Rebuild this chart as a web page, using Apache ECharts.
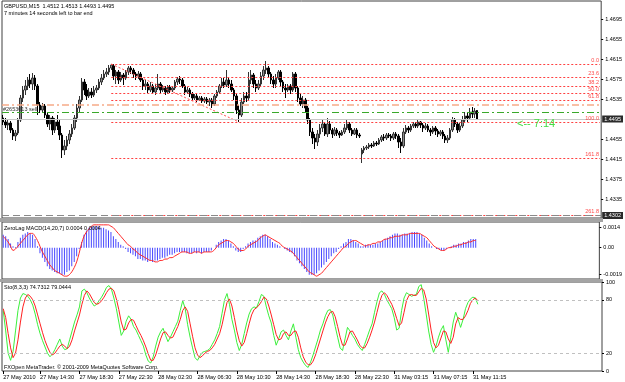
<!DOCTYPE html>
<html>
<head>
<meta charset="utf-8">
<script src="https://cdn.jsdelivr.net/npm/echarts@6/dist/echarts.min.js"></script>
<style>
  html, body { margin: 0; padding: 0; background: #fff; }
  #main { width: 625px; height: 382px; }
</style>
</head>
<body>
<div id="main"></div>
<script>
// time axis: 244 slots of 15 min, labels every 16 bars
const slotCount = 244;
const tickBars = [0, 15, 31, 47, 63, 79, 95, 111, 127, 143, 159, 175, 191];
const tickLabels = ['27 May 2010', '27 May 14:30', '27 May 18:30', '27 May 22:30', '28 May 02:30', '28 May 06:30',
  '28 May 10:30', '28 May 14:30', '28 May 18:30', '28 May 22:30', '31 May 03:15', '31 May 07:15', '31 May 11:15'];

// [open, close, low, high]
const candles = [
  [1.4497,1.4489,1.4483,1.4503],[1.4489,1.4483,1.4477,1.4497],[1.4483,1.4487,1.4473,1.4495],[1.4487,1.4473,1.4467,1.4491],
  [1.4473,1.4461,1.4453,1.4477],[1.4461,1.4467,1.4451,1.4473],[1.4467,1.4493,1.4463,1.4497],[1.4493,1.4537,1.4489,1.4543],
  [1.4537,1.4553,1.4529,1.4561],[1.4553,1.4561,1.4543,1.4573],[1.4561,1.4573,1.4553,1.4579],[1.4573,1.4565,1.4557,1.4585],
  [1.4565,1.4577,1.4553,1.4587],[1.4577,1.4561,1.4553,1.4583],[1.4561,1.4523,1.4503,1.4565],[1.4523,1.4513,1.4507,1.4529],
  [1.4513,1.4521,1.4507,1.4527],[1.4521,1.4503,1.4497,1.4525],[1.4503,1.4485,1.4479,1.4509],[1.4485,1.4497,1.4473,1.4503],
  [1.4497,1.4473,1.4463,1.4501],[1.4473,1.4489,1.4467,1.4497],[1.4489,1.4481,1.4473,1.4503],[1.4481,1.4463,1.4453,1.4493],
  [1.4463,1.4433,1.4417,1.4467],[1.4433,1.4441,1.4423,1.4453],[1.4441,1.4453,1.4433,1.4461],[1.4453,1.4465,1.4445,1.4473],
  [1.4465,1.4477,1.4459,1.4485],[1.4477,1.4497,1.4473,1.4503],[1.4497,1.4517,1.4489,1.4525],[1.4517,1.4533,1.4509,1.4541],
  [1.4533,1.4569,1.4529,1.4577],[1.4569,1.4553,1.4543,1.4575],[1.4553,1.4541,1.4533,1.4565],[1.4541,1.4549,1.4537,1.4557],
  [1.4549,1.4543,1.4537,1.4557],[1.4543,1.4553,1.4539,1.4561],[1.4553,1.4557,1.4547,1.4563],[1.4557,1.4569,1.4553,1.4575],
  [1.4569,1.4577,1.4563,1.4585],[1.4577,1.4585,1.4573,1.4593],[1.4585,1.4589,1.4579,1.4597],[1.4589,1.4597,1.4583,1.4603],
  [1.4597,1.4603,1.4593,1.4605],[1.4601,1.4581,1.4573,1.4605],[1.4581,1.4589,1.4565,1.4593],[1.4589,1.4573,1.4565,1.4593],
  [1.4573,1.4583,1.4569,1.4589],[1.4583,1.4577,1.4563,1.4587],[1.4577,1.4589,1.4573,1.4593],[1.4589,1.4597,1.4583,1.4601],
  [1.4597,1.4593,1.4585,1.4601],[1.4593,1.4585,1.4577,1.4597],[1.4585,1.4581,1.4573,1.4589],[1.4581,1.4585,1.4575,1.4591],
  [1.4585,1.4573,1.4569,1.4589],[1.4573,1.4561,1.4553,1.4577],[1.4561,1.4565,1.4553,1.4573],[1.4565,1.4553,1.4547,1.4569],
  [1.4553,1.4561,1.4549,1.4569],[1.4561,1.4549,1.4545,1.4565],[1.4549,1.4557,1.4543,1.4565],[1.4557,1.4565,1.4553,1.4585],
  [1.4565,1.4553,1.4547,1.4569],[1.4553,1.4557,1.4549,1.4563],[1.4557,1.4549,1.4543,1.4561],[1.4549,1.4559,1.4545,1.4563],
  [1.4559,1.4553,1.4547,1.4563],[1.4553,1.4557,1.4549,1.4561],[1.4557,1.4569,1.4553,1.4573],[1.4569,1.4575,1.4563,1.4579],
  [1.4575,1.4573,1.4565,1.4581],[1.4573,1.4561,1.4557,1.4577],[1.4561,1.4549,1.4543,1.4565],[1.4549,1.4553,1.4545,1.4559],
  [1.4553,1.4545,1.4539,1.4557],[1.4545,1.4537,1.4533,1.4549],[1.4537,1.4541,1.4533,1.4545],[1.4541,1.4533,1.4529,1.4545],
  [1.4533,1.4537,1.4531,1.4541],[1.4537,1.4531,1.4527,1.4541],[1.4531,1.4535,1.4527,1.4539],[1.4535,1.4529,1.4525,1.4539],
  [1.4529,1.4533,1.4521,1.4537],[1.4533,1.4525,1.4517,1.4537],[1.4525,1.4541,1.4521,1.4545],[1.4541,1.4549,1.4537,1.4553],
  [1.4549,1.4561,1.4545,1.4565],[1.4561,1.4569,1.4557,1.4577],[1.4569,1.4563,1.4557,1.4577],[1.4563,1.4573,1.4559,1.4593],
  [1.4573,1.4565,1.4557,1.4579],[1.4565,1.4553,1.4549,1.4573],[1.4553,1.4541,1.4533,1.4557],[1.4541,1.4513,1.4505,1.4545],
  [1.4513,1.4503,1.4489,1.4523],[1.4503,1.4529,1.4499,1.4537],[1.4529,1.4541,1.4525,1.4549],[1.4541,1.4537,1.4529,1.4549],
  [1.4537,1.4573,1.4533,1.4589],[1.4573,1.4583,1.4565,1.4593],[1.4583,1.4565,1.4557,1.4587],[1.4565,1.4557,1.4549,1.4573],
  [1.4557,1.4565,1.4553,1.4573],[1.4565,1.4581,1.4561,1.4589],[1.4581,1.4593,1.4573,1.4601],[1.4593,1.4597,1.4585,1.4611],
  [1.4597,1.4585,1.4577,1.4601],[1.4585,1.4573,1.4565,1.4589],[1.4573,1.4565,1.4557,1.4581],[1.4565,1.4577,1.4557,1.4585],
  [1.4577,1.4589,1.4573,1.4593],[1.4589,1.4569,1.4561,1.4593],[1.4569,1.4557,1.4549,1.4573],[1.4557,1.4553,1.4537,1.4565],
  [1.4553,1.4561,1.4549,1.4565],[1.4561,1.4553,1.4545,1.4565],[1.4553,1.4585,1.4549,1.4589],[1.4585,1.4557,1.4549,1.4589],
  [1.4557,1.4537,1.4529,1.4561],[1.4537,1.4525,1.4521,1.4545],[1.4525,1.4533,1.4517,1.4541],[1.4533,1.4517,1.4509,1.4537],
  [1.4517,1.4493,1.4485,1.4521],[1.4493,1.4469,1.4461,1.4497],[1.4469,1.4457,1.4445,1.4477],[1.4457,1.4449,1.4435,1.4465],
  [1.4449,1.4465,1.4441,1.4473],[1.4465,1.4477,1.4457,1.4485],[1.4477,1.4485,1.4469,1.4493],[1.4485,1.4465,1.4461,1.4489],
  [1.4465,1.4485,1.4459,1.4497],[1.4485,1.4473,1.4465,1.4491],[1.4473,1.4465,1.4457,1.4477],[1.4465,1.4473,1.4461,1.4479],
  [1.4473,1.4467,1.4461,1.4477],[1.4467,1.4463,1.4457,1.4471],[1.4463,1.4469,1.4461,1.4473],[1.4469,1.4477,1.4465,1.4485],
  [1.4477,1.4485,1.4473,1.4493],[1.4485,1.4473,1.4467,1.4489],[1.4473,1.4465,1.4461,1.4477],[1.4465,1.4473,1.4463,1.4477],
  [1.4473,1.4463,1.4457,1.4477],[1.4463,1.4461,1.4457,1.4467],[1.4425,1.4433,1.4407,1.4437],[1.4433,1.4437,1.4427,1.4441],
  [1.4437,1.4439,1.4433,1.4443],[1.4439,1.4443,1.4435,1.4447],[1.4443,1.4441,1.4437,1.4447],[1.4441,1.4447,1.4439,1.4451],
  [1.4447,1.4445,1.4441,1.4451],[1.4445,1.4453,1.4443,1.4457],[1.4453,1.4459,1.4449,1.4463],[1.4459,1.4457,1.4451,1.4465],
  [1.4457,1.4463,1.4453,1.4467],[1.4463,1.4461,1.4457,1.4467],[1.4461,1.4457,1.4451,1.4465],[1.4457,1.4465,1.4453,1.4469],
  [1.4465,1.4461,1.4455,1.4469],[1.4461,1.4449,1.4437,1.4465],[1.4449,1.4441,1.4427,1.4457],[1.4441,1.4469,1.4437,1.4477],
  [1.4469,1.4477,1.4465,1.4483],[1.4477,1.4473,1.4467,1.4481],[1.4473,1.4481,1.4469,1.4485],[1.4481,1.4485,1.4477,1.4489],
  [1.4485,1.4481,1.4477,1.4489],[1.4481,1.4489,1.4477,1.4493],[1.4489,1.4483,1.4477,1.4491],[1.4483,1.4477,1.4469,1.4487],
  [1.4477,1.4481,1.4473,1.4487],[1.4481,1.4473,1.4469,1.4485],[1.4473,1.4469,1.4461,1.4477],[1.4469,1.4477,1.4465,1.4481],
  [1.4477,1.4471,1.4463,1.4481],[1.4471,1.4465,1.4459,1.4475],[1.4465,1.4469,1.4461,1.4473],[1.4469,1.4461,1.4455,1.4473],
  [1.4461,1.4453,1.4447,1.4465],[1.4453,1.4457,1.4447,1.4463],[1.4457,1.4473,1.4453,1.4477],[1.4473,1.4493,1.4469,1.4499],
  [1.4493,1.4485,1.4479,1.4497],[1.4485,1.4473,1.4467,1.4489],[1.4473,1.4481,1.4469,1.4487],[1.4481,1.4493,1.4477,1.4501],
  [1.4493,1.4501,1.4489,1.4509],[1.4501,1.4497,1.4489,1.4509],[1.4497,1.4509,1.4493,1.4517],[1.4509,1.4505,1.4497,1.4519],
  [1.4505,1.4511,1.4497,1.4517],[1.4512,1.4495,1.4493,1.4513]
];

// ZeroLag MACD(14,20,7)
const macdMain = [
  0.0009,0.0008,0.0006,0.0003,0.0001,0.00005,0.0004,0.0007,0.0009,0.0010,0.0011,0.0010,0.0009,0.0006,0.0001,-0.0004,
  -0.0007,-0.0010,-0.0013,-0.0015,-0.0016,-0.0017,-0.0018,-0.0018,-0.0019,-0.0019,-0.0017,-0.0016,-0.0013,-0.0010,-0.0006,-0.0001,
  0.0004,0.0009,0.0012,0.0014,0.0015,0.0015,0.0015,0.0015,0.0014,0.0014,0.0013,0.0012,0.0011,0.0008,0.0006,0.0004,
  0.0002,0.0001,-0.0001,-0.0003,-0.0004,-0.0005,-0.0006,-0.0008,-0.0008,-0.0009,-0.0009,-0.0010,-0.0009,-0.0010,-0.0009,-0.0009,
  -0.0008,-0.0007,-0.0007,-0.0006,-0.0005,-0.0005,-0.0004,-0.0003,-0.0003,-0.0003,-0.0003,-0.0004,-0.0004,-0.0004,-0.0003,-0.0004,
  -0.0003,-0.0004,-0.0003,-0.0003,-0.0003,-0.0002,0.0000,0.0002,0.0004,0.0005,0.0006,0.0006,0.0005,0.0003,0.0001,-0.0002,
  -0.0003,-0.0003,-0.0001,0.0001,0.0003,0.0004,0.0005,0.0005,0.0007,0.0008,0.0009,0.0009,0.0008,0.0006,0.0004,0.0003,
  0.0002,0.0001,0.0000,-0.0001,-0.0002,-0.0003,-0.0004,-0.0006,-0.0009,-0.0011,-0.0013,-0.0015,-0.0017,-0.0019,-0.0019,-0.0019,
  -0.0018,-0.0016,-0.0014,-0.0012,-0.0010,-0.0008,-0.0006,-0.0004,-0.0003,-0.0001,0.0001,0.0003,0.0004,0.0006,0.0006,0.0005,
  0.0004,0.0003,0.0001,0.0001,0.0002,0.0002,0.0002,0.0002,0.0003,0.0003,0.0004,0.0005,0.0006,0.0007,0.0008,0.0009,
  0.0010,0.0010,0.0009,0.0009,0.0010,0.0010,0.0010,0.0011,0.0011,0.0011,0.0010,0.0009,0.0007,0.0005,0.0003,0.0001,
  0.0000,-0.0001,-0.0001,-0.0002,-0.0002,-0.0001,0.0000,0.0001,0.0002,0.0002,0.0003,0.0003,0.0004,0.0004,0.0005,0.0006,
  0.0006,0.0006
];
const macdSignal = [
  0.0008,0.0006,0.0004,0.0001,-0.0002,-0.0001,0.0001,0.0003,0.0005,0.0007,0.0009,0.0010,0.0010,0.0008,0.0005,0.0001,
  -0.0003,-0.0006,-0.0009,-0.0012,-0.0014,-0.0016,-0.0017,-0.0018,-0.0019,-0.0020,-0.0020,-0.0019,-0.0017,-0.0014,-0.0010,-0.0004,
  0.0003,0.0008,0.0011,0.0013,0.0015,0.0016,0.0016,0.0016,0.0016,0.0016,0.0016,0.0016,0.0015,0.0014,0.0012,0.0010,
  0.0008,0.0006,0.0004,0.0002,0.0001,-0.0001,-0.0002,-0.0004,-0.0005,-0.0006,-0.0007,-0.0008,-0.0009,-0.0009,-0.0010,-0.0010,
  -0.0009,-0.0009,-0.0008,-0.0008,-0.0007,-0.0007,-0.0006,-0.0005,-0.0004,-0.0003,-0.0003,-0.0003,-0.0004,-0.0004,-0.0003,-0.0003,
  -0.0003,-0.0004,-0.0003,-0.0003,-0.0003,-0.0003,-0.0002,0.0000,0.0002,0.0003,0.0004,0.0005,0.0005,0.0004,0.0003,0.0001,
  -0.0001,-0.0002,-0.0002,-0.0001,0.0001,0.0002,0.0003,0.0004,0.0005,0.0007,0.0008,0.0009,0.0008,0.0007,0.0006,0.0005,
  0.0004,0.0003,0.0001,0.0000,-0.0001,-0.0002,-0.0003,-0.0005,-0.0007,-0.0009,-0.0011,-0.0013,-0.0015,-0.0017,-0.0018,-0.0019,
  -0.0020,-0.0019,-0.0018,-0.0016,-0.0014,-0.0012,-0.0010,-0.0008,-0.0006,-0.0004,-0.0002,0.0000,0.0001,0.0003,0.0004,0.0005,
  0.0005,0.0004,0.0003,0.0002,0.0001,0.0002,0.0002,0.0003,0.0003,0.0004,0.0004,0.0005,0.0006,0.0006,0.0007,0.0007,
  0.0008,0.0008,0.0008,0.0009,0.0009,0.0009,0.0010,0.0010,0.0010,0.0010,0.0010,0.0009,0.0008,0.0007,0.0005,0.0003,
  0.0001,0.0000,-0.0001,-0.0002,-0.0002,-0.0001,0.0000,0.0000,0.0001,0.0001,0.0002,0.0002,0.0003,0.0003,0.0004,0.0004,
  0.0005,0.0005
];

// Stochastic(8,3,3)
const stochMain = [
  68,45,20,12,22,45,68,82,87,86,84,80,74,64,52,42,34,27,20,16,19,24,30,36,28,24,25,35,45,55,63,72,
  90,92,88,82,77,73,75,79,83,88,94,96,92,82,70,55,40,45,56,62,58,50,46,40,34,28,18,11,9,16,
  28,38,44,48,40,33,38,44,50,56,68,79,70,52,38,26,15,12,17,21,22,23,25,30,35,42,50,65,80,87,
  75,58,46,32,23,30,42,54,64,70,72,71,78,86,84,72,62,54,40,29,36,44,46,40,35,45,53,38,24,15,
  10,6,4,10,18,27,36,46,53,62,68,69,63,50,38,26,23,36,49,45,40,36,30,26,23,30,38,46,53,66,
  78,88,90,86,80,75,70,60,46,48,68,82,88,86,84,85,86,95,97,82,64,45,30,21,28,38,46,51,35,21,
  38,55,66,58,49,58,70,77,81,83,82,75
];
const stochSignal = [
  70,60,42,26,15,20,35,55,72,82,86,84,80,73,63,53,43,34,27,21,18,20,24,28,30,28,25,28,35,45,54,63,
  75,85,90,87,82,77,75,76,79,83,88,92,93,90,81,69,55,46,47,54,58,57,51,45,40,34,27,19,12,12,
  18,27,36,43,44,40,37,38,44,50,58,68,72,67,53,39,26,18,15,17,20,22,23,26,30,36,42,52,65,77,
  81,73,60,45,34,28,32,42,53,63,69,71,74,78,83,81,73,63,52,41,35,36,42,44,40,40,44,45,38,26,
  16,10,7,7,11,18,27,36,45,54,61,66,67,61,50,38,29,29,36,44,45,40,35,29,26,26,31,38,46,55,
  66,77,85,88,85,80,75,68,59,51,54,66,79,85,86,85,85,89,93,91,81,64,46,32,26,29,37,45,44,36,
  31,38,53,60,58,58,62,68,76,80,82,79
];

// price axis and fibonacci retracement
const priceTicks = [1.4335, 1.4375, 1.4415, 1.4455, 1.4535, 1.4575, 1.4615, 1.4655, 1.4695];
const fibNames = ['0.0', '23.6', '38.2', '50.0', '61.8', '100.0', '161.8', '261.8'];
const fibPrices = [1.4605, 1.4578, 1.4561, 1.4547, 1.4533, 1.4489, 1.4417, 1.4302];
const fibStartBar = 44;
const fibTrend = [[44, 1.4605], [96, 1.4489]];
const orderPrice = 1.4523;
const levelPrice = 1.4509;
const bidPrice = 1.4495;
const stopPrice = 1.4302;

const FONT = '"Liberation Sans", Arial, sans-serif';
const cats = Array.from({ length: slotCount }, (_, i) => String(i));
const lastSlot = slotCount - 1;

const chart = echarts.init(document.getElementById('main'), null, { renderer: 'canvas' });

const fibLines = fibNames.map((name, k) => [
  {
    coord: [fibStartBar, fibPrices[k]],
    label: {
      show: true, position: 'insideEndTop', formatter: name, distance: 1,
      color: '#ff4a4a', fontSize: 5.5, fontFamily: FONT
    }
  },
  { coord: [lastSlot, fibPrices[k]] }
]);

const xBase = {
  type: 'category',
  data: cats,
  boundaryGap: true,
  axisLine: { show: false },
  axisTick: { show: false },
  axisLabel: { show: false },
  splitLine: { show: false }
};

function yBase(extra) {
  return Object.assign({
    type: 'value',
    position: 'right',
    scale: true,
    splitLine: { show: false },
    axisLine: { show: false },
    axisTick: { show: true, length: 2, lineStyle: { color: '#000' } },
    axisLabel: { color: '#000', fontSize: 5.5, fontFamily: FONT, margin: 4 }
  }, extra);
}

chart.setOption({
  animation: false,
  backgroundColor: '#fff',
  grid: [
    { left: 2, right: 23, top: 1, height: 217, show: true, borderColor: '#404040', borderWidth: 1 },
    { left: 2, right: 23, top: 222, height: 57, show: true, borderColor: '#404040', borderWidth: 1 },
    { left: 2, right: 23, top: 282, height: 89, show: true, borderColor: '#404040', borderWidth: 1 }
  ],
  xAxis: [
    Object.assign({}, xBase, { gridIndex: 0 }),
    Object.assign({}, xBase, { gridIndex: 1 }),
    Object.assign({}, xBase, {
      gridIndex: 2,
      axisTick: {
        show: true, length: 3, alignWithLabel: true, lineStyle: { color: '#000' },
        interval: (i) => tickBars.indexOf(i) >= 0
      },
      axisLabel: {
        show: true, color: '#000', fontSize: 5.6, fontFamily: FONT, margin: 3, align: 'left',
        interval: (i) => tickBars.indexOf(i) >= 0,
        formatter: (v, i) => tickLabels[tickBars.indexOf(Number(v))] || ''
      }
    })
  ],
  yAxis: [
    yBase({
      gridIndex: 0, min: 1.4297, max: 1.4731,
      axisTick: { show: true, length: 2, lineStyle: { color: '#000' }, customValues: priceTicks },
      axisLabel: { color: '#000', fontSize: 5.5, fontFamily: FONT, margin: 4, customValues: priceTicks,
        formatter: (v) => v.toFixed(4) }
    }),
    yBase({
      gridIndex: 1, min: -0.0022, max: 0.0018,
      axisTick: { show: true, length: 2, lineStyle: { color: '#000' }, customValues: [-0.0019, 0, 0.0014] },
      axisLabel: { color: '#000', fontSize: 5.5, fontFamily: FONT, margin: 4, customValues: [-0.0019, 0, 0.0014],
        formatter: (v) => (v === 0 ? '0.00' : v.toFixed(4)) }
    }),
    yBase({
      gridIndex: 2, min: 0, max: 100,
      axisTick: { show: true, length: 2, lineStyle: { color: '#000' }, customValues: [0, 20, 80, 100] },
      axisLabel: { color: '#000', fontSize: 5.5, fontFamily: FONT, margin: 4, customValues: [0, 20, 80, 100] }
    })
  ],
  series: [
    {
      name: 'GBPUSD', type: 'candlestick', xAxisIndex: 0, yAxisIndex: 0,
      data: candles, barWidth: 2,
      itemStyle: { color: '#8c8c8c', color0: '#000', borderColor: '#333', borderColor0: '#000', borderWidth: 1 },
      markLine: {
        silent: true, symbol: ['none', 'none'], animation: false, precision: 5,
        data: [
          ...fibLines,
          [
            { coord: fibTrend[0], lineStyle: { color: '#ff5050', type: [2, 2], width: 1 } },
            { coord: fibTrend[1] }
          ],
          {
            yAxis: orderPrice,
            lineStyle: { color: '#f6aa88', type: [7, 3, 2, 3], width: 1.5 },
            label: { show: true, position: 'insideStartBottom', formatter: '#2653013 sell', distance: 1,
              color: '#333', fontSize: 5.5, fontFamily: FONT }
          },
          {
            yAxis: levelPrice,
            lineStyle: { color: '#3aa82a', type: [7, 3, 2, 3], width: 1 },
            label: { show: false }
          },
          {
            yAxis: bidPrice,
            lineStyle: { color: '#c8c8c8', type: 'solid', width: 1 },
            label: { show: true, position: 'end', distance: 1, formatter: bidPrice.toFixed(4),
              color: '#fff', backgroundColor: '#2a2a2a', padding: [1, 2, 0, 2], fontSize: 5.5, fontFamily: FONT }
          },
          {
            yAxis: stopPrice,
            lineStyle: { color: '#8a8a8a', type: [7, 4], width: 1 },
            label: { show: true, position: 'end', distance: 1, formatter: stopPrice.toFixed(4),
              color: '#fff', backgroundColor: '#2a2a2a', padding: [1, 2, 0, 2], fontSize: 5.5, fontFamily: FONT }
          }
        ],
        lineStyle: { color: '#ff4040', type: [2, 2], width: 1 },
        label: { show: false }
      }
    },
    {
      name: 'MACD', type: 'bar', xAxisIndex: 1, yAxisIndex: 1,
      data: macdMain, barWidth: 1,
      itemStyle: { color: '#4848ff' }
    },
    {
      name: 'Signal', type: 'line', xAxisIndex: 1, yAxisIndex: 1,
      data: macdSignal, symbol: 'none', smooth: 0.3,
      lineStyle: { color: '#ff2a2a', width: 1 }
    },
    {
      name: '%K', type: 'line', xAxisIndex: 2, yAxisIndex: 2,
      data: stochMain, symbol: 'none',
      lineStyle: { color: '#3cf03c', width: 1 }
    },
    {
      name: '%D', type: 'line', xAxisIndex: 2, yAxisIndex: 2,
      data: stochSignal, symbol: 'none',
      lineStyle: { color: '#ff2020', width: 1 },
      markLine: {
        silent: true, symbol: ['none', 'none'], label: { show: false }, precision: 2,
        lineStyle: { color: '#c0c0c0', type: [3, 3], width: 1 },
        data: [{ yAxis: 20 }, { yAxis: 80 }]
      }
    }
  ],
  graphic: [
    { type: 'rect', shape: { x: 0, y: 218, width: 603, height: 4 }, style: { fill: '#a4a4a4' }, z: 10 },
    { type: 'rect', shape: { x: 0, y: 279, width: 603, height: 3 }, style: { fill: '#a4a4a4' }, z: 10 },
    { type: 'text', left: 4, top: 3, z: 20,
      style: { text: 'GBPUSD,M15  1.4512 1.4513 1.4493 1.4495', fill: '#000', font: '5.5px ' + FONT } },
    { type: 'text', left: 4, top: 10, z: 20,
      style: { text: '7 minutes 14 seconds left to bar end', fill: '#000', font: '5.5px ' + FONT } },
    { type: 'text', left: 517, top: 118, z: 20,
      style: { text: '<-- 7:14', fill: '#44dd44', font: '11px ' + FONT } },
    { type: 'text', left: 4, top: 225, z: 20,
      style: { text: 'ZeroLag MACD(14,20,7) 0.0004 0.0004', fill: '#000', font: '5.5px ' + FONT } },
    { type: 'text', left: 4, top: 284, z: 20,
      style: { text: 'Sto(8,3,3) 74.7312 79.0444', fill: '#000', font: '5.5px ' + FONT } },
    { type: 'text', left: 4, top: 364, z: 20,
      style: { text: 'FXOpen MetaTrader. \u00a9 2001-2009 MetaQuotes Software Corp.', fill: '#000', font: '5.5px ' + FONT } }
  ]
});
</script>
</body>
</html>
